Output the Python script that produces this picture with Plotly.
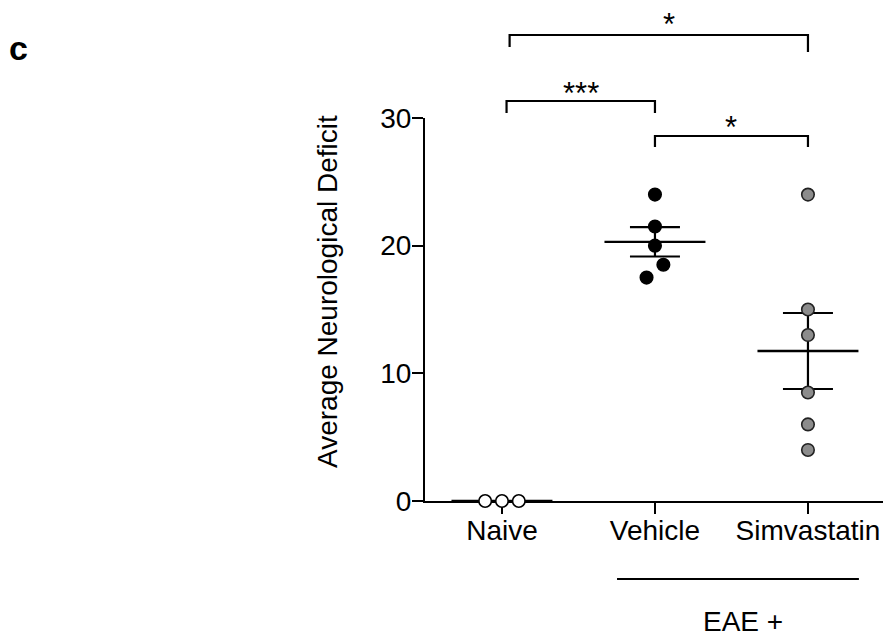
import numpy as np
import plotly.graph_objects as go

# ---- data ----
categories = ["Naive", "Vehicle", "Simvastatin"]
naive_values = [0.0, 0.0, 0.0]
vehicle_values = [24.0, 21.5, 20.0, 18.5, 17.5]
simvastatin_values = [24.0, 15.0, 13.0, 8.5, 6.0, 4.0]
y_ticks = [0, 10, 20, 30]
comparisons = [("Naive", "Simvastatin", "*"), ("Naive", "Vehicle", "***"), ("Vehicle", "Simvastatin", "*")]
group_label = "EAE +"
y_title = "Average Neurological Deficit"
panel_label = "c"

# ---- style / layout ----
groups = [naive_values, vehicle_values, simvastatin_values]
jitter = [[-0.11, 0.0, 0.11], [0.0, 0.0, 0.0, 0.055, -0.055], [0, 0, 0, 0, 0, 0]]
fills = ["white", "black", "#8c8c8c"]
edges = ["black", "black", "#222222"]
FONT = "Liberation Sans, Arial, sans-serif"
FS = 28
W, H = 885, 637
ML, MR, MT, MB = 425, 2, 118, 136
plot_h = H - MT - MB


def py2paper(py):
    return (H - MB - py) / plot_h


fig = go.Figure()

# mean lines and SEM bars
for i, vals in enumerate(groups):
    v = np.array(vals, dtype=float)
    m = v.mean()
    sem = v.std(ddof=1) / np.sqrt(len(v))
    fig.add_trace(go.Scatter(x=[i - 0.33, i + 0.33], y=[m, m], mode="lines",
                             line=dict(color="black", width=2.4), hoverinfo="skip",
                             showlegend=False, cliponaxis=False))
    fig.add_trace(go.Scatter(x=[i], y=[m], mode="markers", marker=dict(size=1, color="rgba(0,0,0,0)"),
                             error_y=dict(type="data", array=[sem], symmetric=True, width=25,
                                          thickness=2.2, color="black"),
                             showlegend=False, hoverinfo="skip", cliponaxis=False))

# points
for i, vals in enumerate(groups):
    fig.add_trace(go.Scatter(x=[i + d for d in jitter[i]], y=vals, mode="markers",
                             marker=dict(size=12.5, color=fills[i], line=dict(color=edges[i], width=1.6)),
                             showlegend=False, cliponaxis=False, name=categories[i]))

# brackets (pixel positions of bracket levels)
bracket_levels = [(35, 47, 52, 17, 0.07), (101, 113, 113, 87, 0.0), (136, 147, 147, 120, 0.0)]
for (a, b, star), (ytop, yl, yr, ystar, dx) in zip(comparisons, bracket_levels):
    xa, xb = categories.index(a), categories.index(b)
    xa_draw = xa + (0.05 if (a == "Naive" and b == "Simvastatin") else (0.03 if a == "Naive" else 0))
    path = (f"M {xa_draw},{py2paper(yl)} L {xa_draw},{py2paper(ytop)} "
            f"L {xb},{py2paper(ytop)} L {xb},{py2paper(yr)}")
    fig.add_shape(type="path", path=path, xref="x", yref="paper",
                  line=dict(color="black", width=2.2))
    fig.add_annotation(x=(xa_draw + xb) / 2 + dx, y=py2paper(ystar + 7), xref="x", yref="paper",
                       text=star, showarrow=False, font=dict(family=FONT, size=31, color="black"),
                       xanchor="center", yanchor="middle")

# EAE + group line and label
fig.add_shape(type="line", x0=0.752, x1=2.333, y0=py2paper(579), y1=py2paper(579),
              xref="x", yref="paper", line=dict(color="black", width=2))
fig.add_annotation(x=1.575, y=py2paper(621), xref="x", yref="paper", text=group_label,
                   showarrow=False, font=dict(family=FONT, size=FS, color="black"),
                   xanchor="center", yanchor="middle")

# y-axis title
fig.add_annotation(x=(327 - ML) / (W - ML - MR), y=py2paper(292), xref="paper", yref="paper",
                   text=y_title, textangle=-90, showarrow=False,
                   font=dict(family=FONT, size=FS, color="black"),
                   xanchor="center", yanchor="middle")

# panel label
fig.add_annotation(x=(18 - ML) / (W - ML - MR), y=py2paper(48), xref="paper", yref="paper",
                   text=f"<b>{panel_label}</b>", showarrow=False,
                   font=dict(family=FONT, size=34, color="black"),
                   xanchor="center", yanchor="middle")

span = (W - ML - MR) / 153.0
fig.update_layout(
    width=W, height=H,
    margin=dict(l=ML, r=MR, t=MT, b=MB, pad=0),
    paper_bgcolor="white", plot_bgcolor="white",
    font=dict(family=FONT, size=FS, color="black"),
    xaxis=dict(range=[-0.503, -0.503 + span], tickvals=[0, 1, 2], ticktext=categories,
               showline=True, linecolor="black", linewidth=2, ticks="outside", ticklen=11,
               tickwidth=2, tickcolor="black", showgrid=False, zeroline=False,
               ticklabelstandoff=-8,
               layer="below traces", tickfont=dict(family=FONT, size=FS, color="black")),
    yaxis=dict(range=[0, 30], tickvals=y_ticks, showline=True, linecolor="black", linewidth=2,
               ticks="outside", ticklen=11, tickwidth=2, tickcolor="black", showgrid=False,
               zeroline=False, layer="below traces", ticklabelstandoff=-5,
               tickfont=dict(family=FONT, size=FS, color="black")),
)

fig.write_html("out.html", config={"displayModeBar": False},
               post_script="document.body.style.margin='0px';document.body.style.overflow='hidden';")
